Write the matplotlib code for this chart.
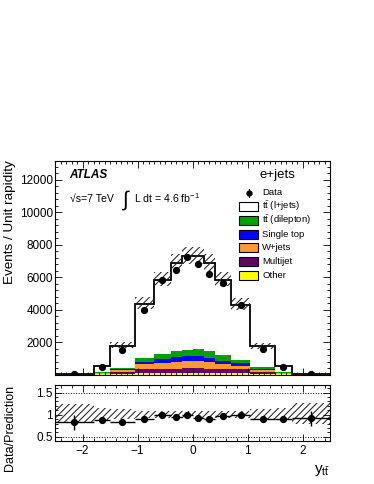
import numpy as np
import matplotlib
matplotlib.use('Agg')
import matplotlib.pyplot as plt
from matplotlib.patches import Rectangle
from matplotlib.ticker import MultipleLocator

plt.rcParams['font.family'] = ['Liberation Sans', 'DejaVu Sans']
plt.rcParams['mathtext.fontset'] = 'custom'
plt.rcParams['mathtext.rm'] = 'Liberation Sans'
plt.rcParams['hatch.linewidth'] = 0.75

# bin edges in y_ttbar
edges = [-2.5, -1.8, -1.5, -1.05, -0.7, -0.4, -0.2, 0.0, 0.2, 0.4, 0.7, 1.05, 1.5, 1.8, 2.5]

# stacked predictions (events / unit rapidity), bottom to top
other = [5, 15, 50, 80, 90, 95, 100, 100, 95, 90, 80, 50, 15, 5]
multijet = [5, 20, 90, 250, 270, 275, 280, 280, 275, 270, 240, 90, 20, 5]
wjets = [15, 45, 110, 300, 340, 430, 470, 470, 405, 300, 210, 110, 45, 15]
single_top = [10, 30, 90, 170, 240, 290, 270, 270, 235, 190, 160, 90, 30, 10]
dilepton = [10, 30, 70, 200, 320, 330, 410, 460, 410, 370, 210, 100, 30, 10]
ljets = [15, 360, 1365, 3360, 4580, 5450, 5790, 5740, 5450, 4620, 3400, 1310, 360, 15]

data = [50, 435, 1500, 3980, 5800, 6450, 7230, 6780, 6200, 5660, 4260, 1570, 455, 55]
ratio_err = [0.17, 0.05, 0.03, 0.02, 0.02, 0.02, 0.02, 0.02, 0.02, 0.02, 0.02, 0.03, 0.05, 0.17]

# relative uncertainty on prediction
syst_up = [0.24, 0.16, 0.12, 0.09, 0.08, 0.08, 0.075, 0.075, 0.08, 0.08, 0.09, 0.12, 0.16, 0.26]
syst_down = [0.18, 0.12, 0.09, 0.08, 0.07, 0.07, 0.07, 0.07, 0.07, 0.07, 0.08, 0.09, 0.12, 0.2]

edges = np.array(edges)
centers = 0.5 * (edges[1:] + edges[:-1])
halfw = 0.5 * np.diff(edges)

layers = [
    (other, 'Other', '#ffff00'),
    (multijet, 'Multijet', '#660066'),
    (wjets, 'W+jets', '#ff9933'),
    (single_top, 'Single top', '#0000ff'),
    (dilepton, r'$\mathregular{t\bar{t}}$ (dilepton)', '#00a000'),
]

fig = plt.figure(figsize=(3.74, 4.84), dpi=100)
ax = fig.add_axes([0.1471, 0.2262, 0.7353, 0.4411])
rax = fig.add_axes([0.1471, 0.0895, 0.7353, 0.1151])

base = np.zeros(len(centers))
for vals, lab, col in layers:
    top = base + np.array(vals)
    ax.stairs(top, edges, baseline=base, fill=True, color=col, lw=0)
    base = top
total = base + np.array(ljets)
ax.stairs(total, edges, baseline=base, fill=True, color='white', lw=0)
ax.stairs(total, edges, baseline=0, color='black', lw=1.3)

up = np.array(syst_up)
dn = np.array(syst_down)
ax.stairs(total * (1 + up), edges, baseline=total * (1 - dn), fill=True,
          facecolor='none', edgecolor='#222222', hatch='/////', lw=0)

ax.plot(centers, data, 'o', color='black', ms=4.2)

ax.set_xlim(-2.5, 2.5)
ax.set_ylim(0, 13150)
ax.set_yticks(range(2000, 13000, 2000))
ax.yaxis.set_minor_locator(MultipleLocator(400))
ax.xaxis.set_major_locator(MultipleLocator(1))
ax.xaxis.set_minor_locator(MultipleLocator(0.1))
ax.tick_params(labelbottom=False)

# ratio panel
ratio = np.array(data) / total
rax.stairs(1 + up, edges, baseline=1 - dn, fill=True,
           facecolor='none', edgecolor='#222222', hatch='/////', lw=0)
rax.axhline(0.5, ls=':', lw=0.7, color='black')
rax.axhline(1.5, ls=':', lw=0.7, color='black')
rax.errorbar(centers, ratio, xerr=halfw, yerr=ratio_err, fmt='o', color='black',
             ms=4.2, elinewidth=1, capsize=0)
rax.set_xlim(-2.5, 2.5)
rax.set_ylim(0.41, 1.675)
rax.set_yticks([0.5, 1, 1.5])
rax.set_yticklabels(['0.5', '1', '1.5'])
rax.yaxis.set_minor_locator(MultipleLocator(0.1))
rax.xaxis.set_major_locator(MultipleLocator(1))
rax.xaxis.set_minor_locator(MultipleLocator(0.2))

for a in (ax, rax):
    a.tick_params(which='both', direction='in', top=True, right=True, width=0.6, labelsize=8.5)
    a.tick_params(which='major', length=5)
    a.tick_params(which='minor', length=2.5)
    a.tick_params(axis='y', pad=1.5)
    for s in a.spines.values():
        s.set_linewidth(0.8)
rax.tick_params(axis='x', pad=3)

# labels
fig.text(10 / 374, 1 - 160 / 484, 'Events / Unit rapidity', rotation=90,
         ha='center', va='top', fontsize=9.7)
fig.text(10 / 374, 1 - 385 / 484, 'Data/Prediction', rotation=90,
         ha='center', va='top', fontsize=9)
fig.text(330 / 374, 1 - 470 / 484, r'$\mathregular{y_{t\bar{t}}}$', ha='right', va='center', fontsize=11)

ax.text(0.052, 0.934, 'ATLAS', transform=ax.transAxes, fontsize=8.5,
        fontweight='bold', fontstyle='italic', va='center')
ax.text(0.055, 0.825, '\u221as=7 TeV', transform=ax.transAxes, fontsize=7.6, va='center')
ax.text(0.243, 0.818, '\u222b', transform=ax.transAxes, fontsize=15, va='center')
ax.text(0.288, 0.825, r'L dt = 4.6 fb$^{\mathregular{-1}}$', transform=ax.transAxes,
        fontsize=7.6, va='center')
ax.text(0.745, 0.934, 'e+jets', transform=ax.transAxes, fontsize=9.5, va='center')

# legend drawn by hand
leg_rows = [('Data', None)] + [(r'$\mathregular{t\bar{t}}$ (l+jets)', 'white')] + \
    [(lab, col) for vals, lab, col in reversed(layers)]
y0 = 0.8515
dy = 0.0647
for i, (lab, col) in enumerate(leg_rows):
    yy = y0 - i * dy
    if col is None:
        ax.plot([0.704], [yy], 'o', color='black', ms=3.5, transform=ax.transAxes)
        ax.plot([0.704, 0.704], [yy - 0.018, yy + 0.018], color='black', lw=0.8,
                transform=ax.transAxes)
    else:
        ax.add_patch(Rectangle((0.669, yy - 0.021), 0.069, 0.042, facecolor=col,
                               edgecolor='black', lw=0.8, transform=ax.transAxes))
    ax.text(0.753, yy, lab, transform=ax.transAxes, fontsize=6.8, va='center')

fig.savefig('out.png', dpi=100)
